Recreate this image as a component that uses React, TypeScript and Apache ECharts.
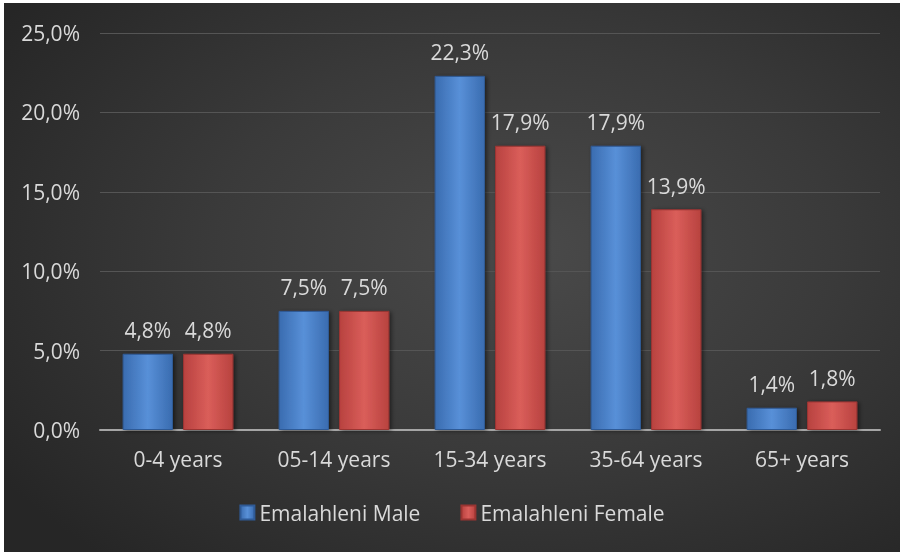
import React, { useEffect, useRef } from "react";
import * as echarts from "echarts";

const categories = ["0-4 years", "05-14 years", "15-34 years", "35-64 years", "65+ years"];
const maleValues = [4.8, 7.5, 22.3, 17.9, 1.4];
const femaleValues = [4.8, 7.5, 17.9, 13.9, 1.8];
const seriesNames = ["Emalahleni Male", "Emalahleni Female"];
const yTicks = [0, 5, 10, 15, 20, 25];

const fmt = (v: number) => v.toFixed(1).replace(".", ",") + "%";

export default function App() {
  const ref = useRef<HTMLDivElement>(null);
  useEffect(() => {
    if (!ref.current) return;
    const chart = echarts.init(ref.current, null, { renderer: "svg" });
    const font = "Open Sans";
    const fs = 21;
    const grad = (edge: string, mid: string) =>
      new echarts.graphic.LinearGradient(0, 0, 1, 0, [
        { offset: 0, color: edge },
        { offset: 0.5, color: mid },
        { offset: 1, color: edge },
      ]);
    const labelCfg = {
      show: true,
      position: "top" as const,
      distance: 13,
      color: "#d9d9d9",
      fontFamily: font,
      fontSize: fs,
      formatter: (p: any) => fmt(p.value),
    };
    chart.setOption({
      animation: false,
      backgroundColor: "transparent",
      grid: { left: 96, right: 20, top: 30, bottom: 122 },
      legend: {
        bottom: 24,
        left: "center",
        itemWidth: 14,
        itemHeight: 14,
        itemGap: 40,
        icon: "rect",
        textStyle: { color: "#d9d9d9", fontFamily: font, fontSize: fs, padding: [0, 0, 0, 0] },
        data: seriesNames,
      },
      xAxis: {
        type: "category",
        data: categories,
        axisTick: { show: false },
        axisLine: { lineStyle: { color: "#a6a6a6", width: 2 } },
        axisLabel: { color: "#d9d9d9", fontFamily: font, fontSize: fs, margin: 18 },
      },
      yAxis: {
        type: "value",
        min: yTicks[0],
        max: yTicks[yTicks.length - 1],
        interval: 5,
        axisLine: { show: false },
        axisTick: { show: false },
        splitLine: { lineStyle: { color: "#555555", width: 1 } },
        axisLabel: {
          color: "#d9d9d9",
          fontFamily: font,
          fontSize: fs,
          margin: 20,
          formatter: (v: number) => fmt(v),
        },
      },
      series: [
        {
          name: seriesNames[0],
          type: "bar",
          data: maleValues,
          barGap: "20%",
          barCategoryGap: "29%",
          itemStyle: {
            color: grad("#3a6cb0", "#5890d8"),
            borderColor: "#2f5a96",
            borderWidth: 1,
            shadowColor: "rgba(0,0,0,0.5)",
            shadowBlur: 4,
            shadowOffsetX: 2,
            shadowOffsetY: 1,
          },
          label: labelCfg,
        },
        {
          name: seriesNames[1],
          type: "bar",
          data: femaleValues,
          itemStyle: {
            color: grad("#b8423f", "#da5e5a"),
            borderColor: "#9a3532",
            borderWidth: 1,
            shadowColor: "rgba(0,0,0,0.5)",
            shadowBlur: 4,
            shadowOffsetX: 2,
            shadowOffsetY: 1,
          },
          label: labelCfg,
        },
      ],
    });
    return () => chart.dispose();
  }, []);
  return (
    <div
      style={{
        position: "fixed",
        left: 4,
        top: 3,
        right: 0,
        bottom: 0,
        background:
          "radial-gradient(ellipse 70% 75% at 58% 45%, #4a4a4a 0%, #3a3a3a 50%, #262626 100%)",
      }}
    >
      <div ref={ref} style={{ width: 896, height: 549 }} />
    </div>
  );
}
